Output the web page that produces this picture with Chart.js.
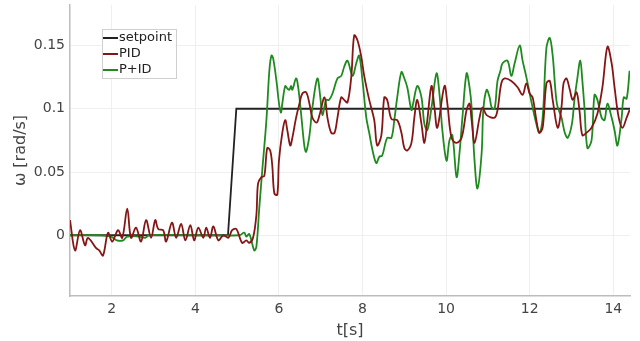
<!DOCTYPE html>
<html>
<head>
<meta charset="utf-8">
<script src="https://cdn.jsdelivr.net/npm/chart.js@4.4.1/dist/chart.umd.min.js"></script>
<style>
  html, body { margin: 0; padding: 0; background: #fff; }
  #wrap { width: 640px; height: 341px; }
</style>
</head>
<body>
<div id="wrap"><canvas id="chart" width="640" height="341"></canvas></div>
<script>
// reference values: [t (s), omega (rad/s)]
const setpoint = [[1.0, 0], [4.78, 0], [4.98, 0.1], [14.4, 0.1]];

const pid = [
  [1.0, 0.012], [1.12, -0.012], [1.24, 0.004], [1.36, -0.008], [1.43, -0.002], [1.62, -0.010],
  [1.70, -0.012], [1.79, -0.016], [1.91, 0.002], [2.01, -0.005], [2.15, 0.004], [2.25, -0.002],
  [2.37, 0.021], [2.46, -0.002], [2.58, 0.006], [2.70, -0.005], [2.82, 0.012], [2.94, -0.002],
  [3.04, 0.012], [3.11, 0.005], [3.23, 0.004], [3.30, -0.005], [3.44, 0.010], [3.54, -0.002],
  [3.66, 0.009], [3.76, -0.004], [3.88, 0.008], [3.97, -0.004], [4.07, 0.006], [4.19, -0.002],
  [4.26, 0.006], [4.35, -0.002], [4.43, 0.007], [4.55, -0.004], [4.67, 0.0], [4.79, -0.002],
  [4.88, 0.004], [4.98, 0.005], [5.12, -0.006], [5.22, -0.004], [5.29, -0.006], [5.38, -0.002],
  [5.46, 0.016], [5.50, 0.041], [5.58, 0.046], [5.65, 0.047], [5.72, 0.069], [5.79, 0.067],
  [5.84, 0.055], [5.89, 0.033], [5.96, 0.032], [6.00, 0.059], [6.08, 0.081], [6.15, 0.091],
  [6.20, 0.083], [6.27, 0.071], [6.32, 0.077], [6.41, 0.093], [6.49, 0.104], [6.56, 0.112],
  [6.65, 0.113], [6.73, 0.104], [6.80, 0.093], [6.90, 0.089], [6.97, 0.095], [7.09, 0.109],
  [7.16, 0.093], [7.25, 0.081], [7.33, 0.081], [7.40, 0.093], [7.49, 0.109], [7.56, 0.107],
  [7.64, 0.105], [7.73, 0.125], [7.80, 0.158], [7.88, 0.154], [7.97, 0.141], [8.04, 0.126],
  [8.16, 0.107], [8.28, 0.091], [8.35, 0.071], [8.45, 0.079], [8.52, 0.109], [8.59, 0.107],
  [8.69, 0.092], [8.83, 0.091], [8.93, 0.081], [9.00, 0.069], [9.07, 0.067], [9.17, 0.073],
  [9.24, 0.093], [9.31, 0.107], [9.41, 0.088], [9.48, 0.073], [9.55, 0.091], [9.65, 0.118],
  [9.72, 0.101], [9.79, 0.085], [9.96, 0.118], [10.03, 0.104], [10.13, 0.077], [10.25, 0.073],
  [10.37, 0.077], [10.49, 0.099], [10.56, 0.104], [10.61, 0.091], [10.68, 0.073], [10.80, 0.093],
  [10.87, 0.101], [10.97, 0.095], [11.16, 0.093], [11.23, 0.099], [11.32, 0.120], [11.40, 0.124],
  [11.56, 0.122], [11.71, 0.117], [11.83, 0.111], [11.92, 0.120], [12.00, 0.112], [12.07, 0.109],
  [12.16, 0.091], [12.23, 0.081], [12.31, 0.085], [12.40, 0.120], [12.48, 0.122], [12.55, 0.107],
  [12.67, 0.085], [12.76, 0.101], [12.81, 0.120], [12.88, 0.124], [12.96, 0.115], [13.03, 0.107],
  [13.12, 0.113], [13.19, 0.099], [13.26, 0.079], [13.36, 0.081], [13.48, 0.085], [13.62, 0.096],
  [13.74, 0.117], [13.86, 0.149], [13.96, 0.136], [14.03, 0.117], [14.13, 0.093], [14.22, 0.085],
  [14.32, 0.093], [14.39, 0.099]
];

const pid2 = [
  [1.0, 0], [1.70, 0], [1.98, -0.001], [2.12, -0.004], [2.27, -0.004], [2.37, -0.001],
  [2.65, -0.001], [2.80, -0.002], [2.89, 0], [4.09, 0], [5.05, 0], [5.17, 0.002],
  [5.22, -0.001], [5.29, 0.001], [5.41, -0.012], [5.46, -0.009], [5.53, 0.022], [5.60, 0.051],
  [5.70, 0.091], [5.77, 0.130], [5.82, 0.142], [5.86, 0.140], [5.94, 0.122], [6.01, 0.102],
  [6.05, 0.097], [6.08, 0.104], [6.15, 0.118], [6.20, 0.116], [6.25, 0.115], [6.29, 0.118],
  [6.32, 0.115], [6.41, 0.124], [6.46, 0.117], [6.53, 0.096], [6.61, 0.070], [6.65, 0.066],
  [6.73, 0.079], [6.80, 0.101], [6.92, 0.124], [6.99, 0.109], [7.04, 0.095], [7.13, 0.107],
  [7.20, 0.107], [7.28, 0.112], [7.40, 0.124], [7.49, 0.126], [7.56, 0.133], [7.64, 0.138],
  [7.76, 0.126], [7.85, 0.136], [7.92, 0.142], [8.00, 0.122], [8.09, 0.093], [8.16, 0.081],
  [8.24, 0.067], [8.33, 0.057], [8.40, 0.062], [8.47, 0.063], [8.59, 0.077], [8.69, 0.077],
  [8.76, 0.091], [8.83, 0.109], [8.93, 0.129], [9.00, 0.124], [9.07, 0.117], [9.17, 0.099],
  [9.21, 0.104], [9.31, 0.118], [9.41, 0.109], [9.48, 0.088], [9.55, 0.083], [9.65, 0.101],
  [9.77, 0.128], [9.84, 0.112], [9.91, 0.083], [10.01, 0.059], [10.08, 0.075], [10.15, 0.079],
  [10.25, 0.046], [10.32, 0.065], [10.39, 0.093], [10.49, 0.128], [10.56, 0.117], [10.61, 0.101],
  [10.68, 0.059], [10.75, 0.037], [10.85, 0.065], [10.89, 0.099], [10.97, 0.115], [11.04, 0.109],
  [11.09, 0.101], [11.16, 0.100], [11.23, 0.122], [11.30, 0.130], [11.35, 0.136], [11.47, 0.138],
  [11.56, 0.126], [11.64, 0.136], [11.76, 0.150], [11.83, 0.138], [11.92, 0.125], [12.00, 0.112],
  [12.07, 0.101], [12.16, 0.088], [12.23, 0.081], [12.31, 0.093], [12.40, 0.148], [12.48, 0.156],
  [12.55, 0.142], [12.65, 0.104], [12.76, 0.093], [12.84, 0.081], [12.91, 0.077], [13.01, 0.088],
  [13.07, 0.107], [13.14, 0.124], [13.21, 0.138], [13.26, 0.122], [13.31, 0.101], [13.38, 0.069],
  [13.48, 0.075], [13.55, 0.111], [13.62, 0.107], [13.72, 0.093], [13.79, 0.091], [13.86, 0.104],
  [13.96, 0.093], [14.03, 0.083], [14.10, 0.071], [14.20, 0.093], [14.25, 0.109], [14.32, 0.108],
  [14.39, 0.130]
];

const xTicks = [2, 4, 6, 8, 10, 12, 14];
const yTicks = [0, 0.05, 0.1, 0.15];
const yTickLabels = ['0', '0.05', '0.1', '0.15'];

const FONT = '"DejaVu Sans", "Liberation Sans", sans-serif';

function toXY(arr) {
  return arr.map(p => ({ x: p[0], y: p[1] }));
}

// legend box drawn inside the plot, like the original figure
const boxLegend = {
  id: 'boxLegend',
  afterDraw(chart) {
    const ctx = chart.ctx;
    const x0 = 102, y0 = 29, w = 74, h = 49;
    ctx.save();
    ctx.fillStyle = '#fff';
    ctx.fillRect(x0, y0, w, h);
    ctx.strokeStyle = '#d0d0d0';
    ctx.lineWidth = 1;
    ctx.strokeRect(x0 + 0.5, y0 + 0.5, w, h);
    ctx.font = '13px ' + FONT;
    ctx.textBaseline = 'middle';
    chart.data.datasets.forEach((ds, i) => {
      const y = y0 + 9 + i * 16;
      ctx.strokeStyle = ds.borderColor;
      ctx.lineWidth = 2;
      ctx.beginPath();
      ctx.moveTo(x0 + 1, y);
      ctx.lineTo(x0 + 16, y);
      ctx.stroke();
      ctx.fillStyle = '#222';
      ctx.fillText(ds.label, x0 + 17, y);
    });
    ctx.restore();
  }
};

new Chart(document.getElementById('chart').getContext('2d'), {
  type: 'line',
  data: {
    datasets: [
      {
        label: 'setpoint',
        data: toXY(setpoint),
        borderColor: '#222222',
        borderWidth: 1.8,
        pointRadius: 0,
        tension: 0,
        order: 3
      },
      {
        label: 'PID',
        data: toXY(pid),
        borderColor: '#861515',
        borderWidth: 1.8,
        pointRadius: 0,
        tension: 0.35,
        order: 1
      },
      {
        label: 'P+ID',
        data: toXY(pid2),
        borderColor: '#1f8a1f',
        borderWidth: 1.8,
        pointRadius: 0,
        tension: 0.35,
        order: 2
      }
    ]
  },
  options: {
    responsive: false,
    animation: false,
    layout: { padding: { top: 5, right: 10, bottom: 0, left: 0 } },
    plugins: {
      legend: { display: false },
      tooltip: { enabled: false }
    },
    scales: {
      x: {
        type: 'linear',
        min: 1,
        max: 14.4,
        afterBuildTicks: s => { s.ticks = xTicks.map(v => ({ value: v })); },
        afterFit: s => { s.height = 45; s.paddingLeft = 0; s.paddingRight = 0; },
        grid: { color: '#efefef', drawTicks: false },
        border: { color: '#bdbdbd', width: 1.5 },
        ticks: { padding: 5, color: '#444', font: { family: FONT, size: 14 } },
        title: {
          display: true,
          text: 't[s]',
          color: '#444',
          font: { family: FONT, size: 16 },
          padding: { top: 0, bottom: 1 }
        }
      },
      y: {
        min: -0.048,
        max: 0.182,
        afterBuildTicks: s => { s.ticks = yTicks.map(v => ({ value: v })); },
        afterFit: s => { s.width = 70; s.paddingTop = 0; s.paddingBottom = 0; },
        grid: { color: '#efefef', drawTicks: false },
        border: { color: '#bdbdbd', width: 1.5 },
        ticks: {
          padding: 5,
          color: '#444',
          font: { family: FONT, size: 14 },
          callback: (v, i) => yTickLabels[i]
        },
        title: {
          display: true,
          text: 'ω [rad/s]',
          color: '#444',
          font: { family: FONT, size: 16 },
          padding: { top: 11, bottom: 0 }
        }
      }
    }
  },
  plugins: [boxLegend]
});
</script>
</body>
</html>
